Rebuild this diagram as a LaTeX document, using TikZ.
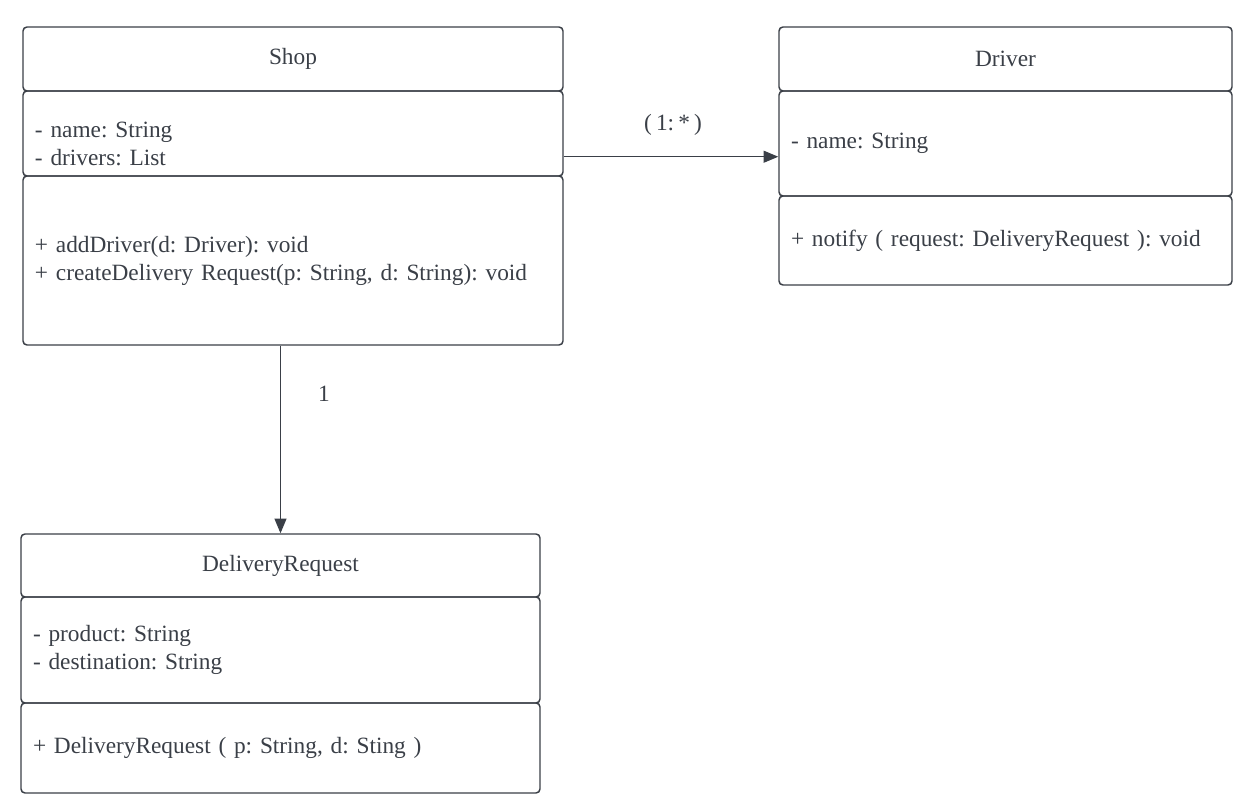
\documentclass[tikz,border=0pt]{standalone}
\usepackage{fontspec}
\setmainfont{Liberation Serif}[WordSpace=0.7]
\usetikzlibrary{arrows.meta}
\definecolor{umlgray}{RGB}{58,63,71}
\frenchspacing

\begin{document}
\begin{tikzpicture}[x=0.75pt,y=-0.75pt,
    part/.style={draw=umlgray, line width=1.1pt, rounded corners=3pt,
      inner sep=0pt, text=umlgray, font=\fontsize{17.5}{21}\selectfont},
    title/.style={part, align=center},
    members/.style={part, align=left},
    conn/.style={draw=umlgray, line width=0.8pt, -{Triangle[length=11pt,width=9pt]}},
    mult/.style={text=umlgray, font=\fontsize{17.5}{21}\selectfont}]
      \useasboundingbox (0,0) rectangle (1258,812);

      % Shop
      \node[title, minimum width=405pt, minimum height=48pt] (shophead) at (293,59) {Shop};
      \node[members, minimum width=405pt, minimum height=63.75pt, text width=387pt] (shopattr) at (293,133.5)
        {\rule{0pt}{28pt}- name: String\\- drivers: List};
      \node[members, minimum width=405pt, minimum height=126.75pt, text width=387pt] (shopmeth) at (293,260.5)
        {+ addDriver(d: Driver): void\\+ createDelivery Request(p: String, d: String): void};

      % Driver
      \node[title, minimum width=339.75pt, minimum height=48pt] (drvhead) at (1005.5,59) {Driver};
      \node[members, minimum width=339.75pt, minimum height=78.75pt, text width=321.75pt] (drvattr) at (1005.5,143.5)
        {- name: String};
      \node[members, minimum width=339.75pt, minimum height=66.75pt, text width=321.75pt] (drvmeth) at (1005.5,240.5)
        {+ notify ( request: DeliveryRequest ): void};

      % DeliveryRequest
      \node[title, minimum width=389.25pt, minimum height=47.25pt] (reqhead) at (280.5,565.5) {DeliveryRequest};
      \node[members, minimum width=389.25pt, minimum height=79.5pt, text width=371.25pt] (reqattr) at (280.5,650)
        {- product: String\\- destination: String};
      \node[members, minimum width=389.25pt, minimum height=67.5pt, text width=371.25pt] (reqmeth) at (280.5,748)
        {+ DeliveryRequest ( p: String, d: Sting )};

      % associations
      \coordinate (shopout) at ([yshift=15pt]shopattr.south east);
      \draw[conn] (shopout) -- (drvattr.west |- shopout);
      \node[mult] (drvmult) at (673,125) {( 1: * )};

      \draw[conn] (shopmeth.south -| reqhead.north) -- (reqhead.north);
      \node[mult] (reqmult) at (324,394) {1};
    \end{tikzpicture}
\end{document}
